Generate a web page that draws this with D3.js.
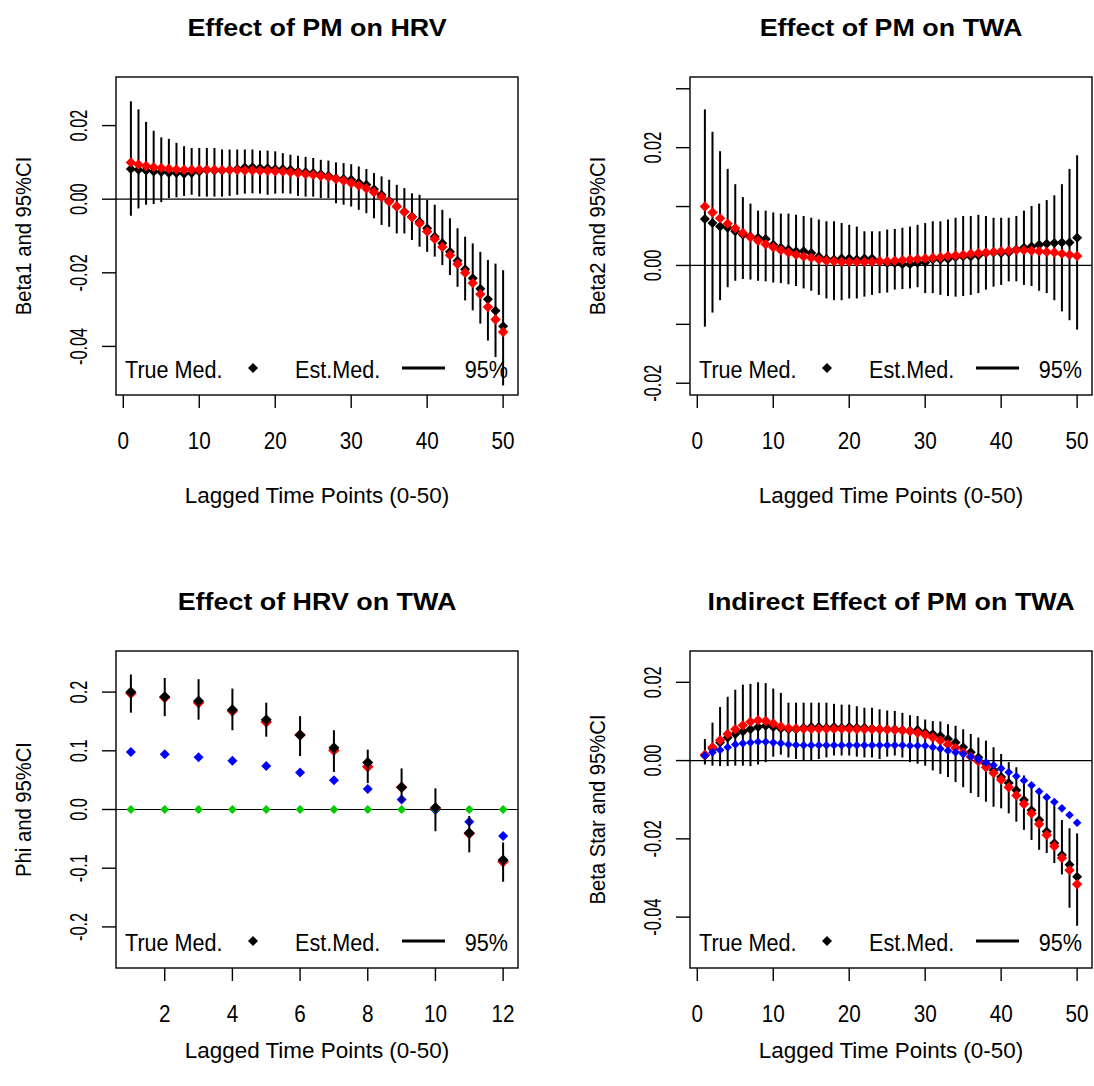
<!DOCTYPE html>
<html>
<head>
<meta charset="utf-8">
<script src="https://cdn.jsdelivr.net/npm/d3@7"></script>
<style>
  body { margin: 0; background: #fff; }
  svg { display: block; font-family: "Liberation Sans", Arial, sans-serif; }
</style>
</head>
<body>
<svg id="chart" width="1094" height="1086"></svg>
<script>
// lag positions
const lags50 = [1, 2, 3, 4, 5, 6, 7, 8, 9, 10, 11, 12, 13, 14, 15, 16, 17, 18, 19, 20,
    21, 22, 23, 24, 25, 26, 27, 28, 29, 30, 31, 32, 33, 34, 35, 36, 37, 38, 39, 40,
    41, 42, 43, 44, 45, 46, 47, 48, 49, 50];
const lags12 = [1, 2, 3, 4, 5, 6, 7, 8, 9, 10, 11, 12];

// Effect of PM on HRV
const hrvTrue = [0.0100, 0.0094, 0.0090, 0.0087, 0.0085, 0.0083, 0.0081, 0.0080, 0.0080, 0.0080,
    0.0080, 0.0080, 0.0079, 0.0079, 0.0079, 0.0078, 0.0078, 0.0077, 0.0077, 0.0076,
    0.0075, 0.0073, 0.0071, 0.0068, 0.0066, 0.0063, 0.0060, 0.0055, 0.0050, 0.0044,
    0.0037, 0.0029, 0.0019, 0.0006, -0.0007, -0.0020, -0.0035, -0.0049, -0.0066, -0.0088,
    -0.0108, -0.0130, -0.0152, -0.0176, -0.0200, -0.0228, -0.0258, -0.0293, -0.0327, -0.0361];
const hrvEst = [0.0082, 0.0080, 0.0078, 0.0075, 0.0074, 0.0071, 0.0071, 0.0069, 0.0071, 0.0075,
    0.0080, 0.0078, 0.0078, 0.0080, 0.0082, 0.0086, 0.0087, 0.0085, 0.0084, 0.0082,
    0.0082, 0.0080, 0.0075, 0.0073, 0.0071, 0.0068, 0.0064, 0.0057, 0.0055, 0.0053,
    0.0045, 0.0039, 0.0027, 0.0012, -0.0004, -0.0020, -0.0034, -0.0047, -0.0061, -0.0079,
    -0.0102, -0.0120, -0.0143, -0.0167, -0.0190, -0.0215, -0.0243, -0.0272, -0.0303, -0.0345];
const hrvHi = [0.0266, 0.0244, 0.0210, 0.0186, 0.0168, 0.0164, 0.0153, 0.0144, 0.0139, 0.0139,
    0.0139, 0.0139, 0.0135, 0.0135, 0.0135, 0.0135, 0.0135, 0.0132, 0.0132, 0.0130,
    0.0125, 0.0121, 0.0118, 0.0115, 0.0112, 0.0107, 0.0105, 0.0100, 0.0098, 0.0095,
    0.0089, 0.0082, 0.0071, 0.0062, 0.0053, 0.0039, 0.0030, 0.0016, 0.0012, -0.0002,
    -0.0015, -0.0029, -0.0052, -0.0079, -0.0102, -0.0120, -0.0143, -0.0165, -0.0175, -0.0193];
const hrvLo = [-0.0045, -0.0025, -0.0015, -0.0013, -0.0008, 0.0003, 0.0005, 0.0009, 0.0012, 0.0007,
    0.0007, 0.0007, 0.0007, 0.0009, 0.0012, 0.0015, 0.0016, 0.0015, 0.0012, 0.0015,
    0.0016, 0.0015, 0.0009, 0.0007, 0.0007, 0.0003, 0.0003, -0.0011, -0.0015, -0.0020,
    -0.0029, -0.0038, -0.0052, -0.0070, -0.0075, -0.0093, -0.0093, -0.0111, -0.0129, -0.0143,
    -0.0156, -0.0179, -0.0206, -0.0238, -0.0275, -0.0302, -0.0338, -0.0384, -0.0429, -0.0506];

// Effect of PM on TWA
const twaTrue = [0.0100, 0.0090, 0.0080, 0.0071, 0.0063, 0.0055, 0.0048, 0.0042, 0.0036, 0.0031,
    0.0026, 0.0022, 0.0018, 0.0015, 0.0013, 0.0010, 0.0008, 0.0007, 0.0006, 0.0006,
    0.0006, 0.0006, 0.0006, 0.0007, 0.0007, 0.0008, 0.0009, 0.0010, 0.0011, 0.0012,
    0.0013, 0.0014, 0.0016, 0.0017, 0.0018, 0.0020, 0.0021, 0.0022, 0.0023, 0.0024,
    0.0025, 0.0026, 0.0026, 0.0025, 0.0024, 0.0023, 0.0022, 0.0020, 0.0018, 0.0016];
const twaEst = [0.0079, 0.0072, 0.0066, 0.0064, 0.0058, 0.0052, 0.0049, 0.0047, 0.0045, 0.0035,
    0.0030, 0.0027, 0.0024, 0.0024, 0.0021, 0.0015, 0.0011, 0.0010, 0.0012, 0.0012,
    0.0010, 0.0012, 0.0012, 0.0007, 0.0004, 0.0004, 0.0002, 0.0002, 0.0004, 0.0005,
    0.0010, 0.0010, 0.0011, 0.0014, 0.0015, 0.0015, 0.0017, 0.0021, 0.0022, 0.0021,
    0.0022, 0.0027, 0.0030, 0.0032, 0.0035, 0.0037, 0.0038, 0.0039, 0.0039, 0.0047];
const twaHi = [0.0265, 0.0227, 0.0194, 0.0164, 0.0138, 0.0116, 0.0105, 0.0093, 0.0093, 0.0090,
    0.0088, 0.0088, 0.0086, 0.0084, 0.0081, 0.0078, 0.0075, 0.0075, 0.0072, 0.0069,
    0.0066, 0.0058, 0.0058, 0.0058, 0.0061, 0.0062, 0.0064, 0.0066, 0.0069, 0.0072,
    0.0075, 0.0075, 0.0078, 0.0081, 0.0084, 0.0084, 0.0086, 0.0084, 0.0081, 0.0081,
    0.0081, 0.0084, 0.0093, 0.0101, 0.0105, 0.0111, 0.0119, 0.0138, 0.0164, 0.0187];
const twaLo = [-0.0104, -0.0080, -0.0059, -0.0037, -0.0026, -0.0023, -0.0024, -0.0026, -0.0027, -0.0029,
    -0.0030, -0.0032, -0.0035, -0.0039, -0.0043, -0.0050, -0.0056, -0.0059, -0.0059, -0.0056,
    -0.0056, -0.0053, -0.0050, -0.0047, -0.0046, -0.0041, -0.0040, -0.0039, -0.0037, -0.0047,
    -0.0047, -0.0050, -0.0052, -0.0053, -0.0052, -0.0050, -0.0047, -0.0041, -0.0036, -0.0033,
    -0.0027, -0.0027, -0.0033, -0.0035, -0.0043, -0.0047, -0.0059, -0.0078, -0.0093, -0.0109];

// Effect of HRV on TWA
const phiTrue = [0.198, 0.191, 0.182, 0.168, 0.149, 0.127, 0.101, 0.073, 0.038, 0.002, -0.041, -0.089];
const phiEst = [0.200, 0.192, 0.185, 0.170, 0.153, 0.127, 0.105, 0.080, 0.038, 0.003, -0.040, -0.086];
const phiBlue = [0.098, 0.094, 0.089, 0.083, 0.074, 0.063, 0.050, 0.035, 0.017, -0.001, -0.021, -0.045];
const phiGreen = [0, 0, 0, 0, 0, 0, 0, 0, 0, 0, 0, 0];
const phiHi = [0.230, 0.224, 0.222, 0.206, 0.182, 0.159, 0.135, 0.102, 0.070, 0.036, -0.011, -0.056];
const phiLo = [0.165, 0.159, 0.153, 0.135, 0.124, 0.091, 0.064, 0.045, 0.013, -0.037, -0.073, -0.123];

// Indirect Effect of PM on TWA
const indTrue = [0.0015, 0.0034, 0.0052, 0.0068, 0.0080, 0.0090, 0.0099, 0.0103, 0.0101, 0.0095,
    0.0087, 0.0083, 0.0082, 0.0081, 0.0081, 0.0081, 0.0081, 0.0081, 0.0081, 0.0081,
    0.0080, 0.0080, 0.0080, 0.0080, 0.0079, 0.0078, 0.0077, 0.0075, 0.0071, 0.0066,
    0.0059, 0.0051, 0.0041, 0.0032, 0.0021, 0.0010, -0.0002, -0.0017, -0.0032, -0.0049,
    -0.0068, -0.0089, -0.0111, -0.0135, -0.0162, -0.0190, -0.0219, -0.0249, -0.0280, -0.0316];
const indEst = [0.0013, 0.0030, 0.0046, 0.0059, 0.0068, 0.0074, 0.0080, 0.0086, 0.0089, 0.0086,
    0.0082, 0.0080, 0.0080, 0.0084, 0.0086, 0.0086, 0.0084, 0.0086, 0.0084, 0.0086,
    0.0084, 0.0084, 0.0082, 0.0080, 0.0080, 0.0080, 0.0078, 0.0076, 0.0078, 0.0072,
    0.0068, 0.0063, 0.0055, 0.0046, 0.0034, 0.0021, 0.0008, -0.0008, -0.0025, -0.0042,
    -0.0057, -0.0076, -0.0101, -0.0127, -0.0152, -0.0181, -0.0211, -0.0241, -0.0266, -0.0297];
const indBlue = [0.0013, 0.0021, 0.0027, 0.0034, 0.0041, 0.0044, 0.0046, 0.0048, 0.0048, 0.0046,
    0.0044, 0.0041, 0.0040, 0.0039, 0.0039, 0.0039, 0.0039, 0.0039, 0.0039, 0.0039,
    0.0039, 0.0039, 0.0039, 0.0039, 0.0039, 0.0039, 0.0039, 0.0038, 0.0038, 0.0038,
    0.0034, 0.0030, 0.0025, 0.0021, 0.0017, 0.0010, 0.0003, -0.0005, -0.0012, -0.0020,
    -0.0030, -0.0040, -0.0051, -0.0063, -0.0079, -0.0094, -0.0106, -0.0122, -0.0139, -0.0159];
const indHi = [0.0055, 0.0097, 0.0137, 0.0163, 0.0181, 0.0194, 0.0196, 0.0200, 0.0198, 0.0184,
    0.0173, 0.0148, 0.0148, 0.0148, 0.0148, 0.0148, 0.0148, 0.0145, 0.0143, 0.0143,
    0.0139, 0.0135, 0.0135, 0.0131, 0.0128, 0.0127, 0.0122, 0.0116, 0.0114, 0.0105,
    0.0101, 0.0100, 0.0093, 0.0089, 0.0080, 0.0068, 0.0059, 0.0051, 0.0034, 0.0017,
    -0.0004, -0.0017, -0.0038, -0.0068, -0.0084, -0.0101, -0.0114, -0.0152, -0.0173, -0.0186];
const indLo = [-0.0010, -0.0013, -0.0014, -0.0014, -0.0013, -0.0013, -0.0014, -0.0010, -0.0004, 0.0010,
    0.0015, 0.0008, 0.0004, 0.0000, 0.0000, 0.0004, 0.0008, 0.0013, 0.0013, 0.0013,
    0.0010, 0.0008, 0.0008, 0.0004, 0.0010, 0.0013, 0.0008, -0.0004, -0.0008, -0.0013,
    -0.0025, -0.0034, -0.0042, -0.0055, -0.0068, -0.0083, -0.0093, -0.0105, -0.0118, -0.0122,
    -0.0135, -0.0156, -0.0177, -0.0203, -0.0228, -0.0236, -0.0262, -0.0291, -0.0376, -0.0422];

// axis ticks and labels
const xTicks50 = [0, 10, 20, 30, 40, 50];
const xTicks12 = [2, 4, 6, 8, 10, 12];
const yTicksHrv = [-0.04, -0.02, 0, 0.02];
const yLabelsHrv = ["-0.04", "-0.02", "0.00", "0.02"];
const yTicksTwa = [-0.02, -0.01, 0, 0.01, 0.02, 0.03];
const yLabelsTwa = ["-0.02", "", "0.00", "", "0.02", ""];
const yTicksPhi = [-0.2, -0.1, 0, 0.1, 0.2];
const yLabelsPhi = ["-0.2", "-0.1", "0.0", "0.1", "0.2"];
const yTicksInd = [-0.04, -0.02, 0, 0.02];
const yLabelsInd = ["-0.04", "-0.02", "0.00", "0.02"];

const svg = d3.select("#chart");

function txt(g, x, y, str, size, sx, opt) {
    opt = opt || {};
    let tr = "translate(" + x + "," + y + ")";
    if (opt.rotate) tr += " rotate(-90)";
    tr += " scale(" + sx + ",1)";
    const t = g.append("text")
        .attr("transform", tr)
        .attr("font-size", size)
        .attr("text-anchor", opt.anchor || "middle")
        .attr("fill", "#000")
        .text(str);
    if (opt.bold) t.attr("font-weight", "bold");
    return t;
}

function diamond(r) {
    return "M0," + (-r) + "L" + r + ",0L0," + r + "L" + (-r) + ",0Z";
}

function panel(cfg) {
    const g = svg.append("g");
    const x = d3.scaleLinear().domain(cfg.xDomain).range([cfg.left, cfg.left + cfg.width]);
    const y = d3.scaleLinear().domain(cfg.yDomain).range([cfg.top + cfg.height, cfg.top]);
    const bottom = cfg.top + cfg.height;

    // zero line
    g.append("line")
        .attr("x1", cfg.left).attr("x2", cfg.left + cfg.width)
        .attr("y1", y(0)).attr("y2", y(0))
        .attr("stroke", "#000").attr("stroke-width", 1.2);

    function drawSeries() {
        cfg.series.forEach(s => {
            g.append("g").selectAll("path")
                .data(s.values)
                .join("path")
                .attr("d", diamond(s.r))
                .attr("transform", (d, i) => "translate(" + x(cfg.lags[i]) + "," + y(d) + ")")
                .attr("fill", s.color);
        });
    }

    if (!cfg.trueOnTop) drawSeries();

    // 95% intervals
    g.append("g").selectAll("line")
        .data(cfg.lo)
        .join("line")
        .attr("x1", (d, i) => x(cfg.lags[i]))
        .attr("x2", (d, i) => x(cfg.lags[i]))
        .attr("y1", d => y(d))
        .attr("y2", (d, i) => y(cfg.hi[i]))
        .attr("stroke", "#000").attr("stroke-width", 2);

    // estimated medians
    g.append("g").selectAll("path")
        .data(cfg.est)
        .join("path")
        .attr("d", diamond(cfg.estR))
        .attr("transform", (d, i) => "translate(" + x(cfg.lags[i]) + "," + y(d) + ")")
        .attr("fill", "#000");

    if (cfg.trueOnTop) drawSeries();

    // box
    g.append("rect")
        .attr("x", cfg.left).attr("y", cfg.top)
        .attr("width", cfg.width).attr("height", cfg.height)
        .attr("fill", "none").attr("stroke", "#000").attr("stroke-width", 1.4);

    // x axis
    const xa = g.append("g");
    cfg.xTicks.forEach(t => {
        xa.append("line")
            .attr("x1", x(t)).attr("x2", x(t))
            .attr("y1", bottom).attr("y2", bottom + 13)
            .attr("stroke", "#000").attr("stroke-width", 1.4);
        txt(xa, x(t), bottom + 54, String(t), 23, 0.9);
    });

    // y axis
    const ya = g.append("g");
    cfg.yTicks.forEach((t, i) => {
        ya.append("line")
            .attr("x1", cfg.left - 14).attr("x2", cfg.left)
            .attr("y1", y(t)).attr("y2", y(t))
            .attr("stroke", "#000").attr("stroke-width", 1.4);
        if (cfg.yLabels[i] !== "")
            txt(ya, cfg.left - 29, y(t), cfg.yLabels[i], 24, 0.68, { rotate: true });
    });

    // titles
    txt(g, cfg.left + cfg.width / 2, cfg.top - 41, cfg.title, 24, 1.12, { bold: true });
    txt(g, cfg.left + cfg.width / 2, bottom + cfg.xLabOff, "Lagged Time Points (0-50)", 22, 1.02);
    txt(g, cfg.left - 85, cfg.top + cfg.height / 2, cfg.yTitle, 22, 0.92, { rotate: true });

    // legend
    const ly = bottom - 17;
    txt(g, cfg.left + 9, ly, "True Med.", 24, 0.9, { anchor: "start" });
    g.append("path")
        .attr("d", diamond(5))
        .attr("transform", "translate(" + (cfg.left + 137) + "," + (ly - 10) + ")")
        .attr("fill", "#000");
    txt(g, cfg.left + 179, ly, "Est.Med.", 24, 0.9, { anchor: "start" });
    g.append("line")
        .attr("x1", cfg.left + 286).attr("x2", cfg.left + 329)
        .attr("y1", ly - 10).attr("y2", ly - 10)
        .attr("stroke", "#000").attr("stroke-width", 3);
    txt(g, cfg.left + 392, ly, "95%", 24, 0.9, { anchor: "end" });
}

panel({
    left: 116, top: 77, width: 402, height: 318, xLabOff: 108, trueOnTop: true,
    xDomain: [-0.96, 51.96], yDomain: [-0.0532, 0.0332],
    lags: lags50, est: hrvEst, lo: hrvLo, hi: hrvHi, estR: 5,
    series: [{ values: hrvTrue, color: "#ff0000", r: 5.2 }],
    xTicks: xTicks50, yTicks: yTicksHrv, yLabels: yLabelsHrv,
    title: "Effect of PM on HRV", yTitle: "Beta1 and 95%CI"
});

panel({
    left: 690, top: 77, width: 402, height: 318, xLabOff: 108, trueOnTop: true,
    xDomain: [-0.96, 51.96], yDomain: [-0.022, 0.032],
    lags: lags50, est: twaEst, lo: twaLo, hi: twaHi, estR: 5,
    series: [{ values: twaTrue, color: "#ff0000", r: 5.2 }],
    xTicks: xTicks50, yTicks: yTicksTwa, yLabels: yLabelsTwa,
    title: "Effect of PM on TWA", yTitle: "Beta2 and 95%CI"
});

panel({
    left: 116, top: 651, width: 402, height: 317, xLabOff: 90, trueOnTop: false,
    xDomain: [0.56, 12.44], yDomain: [-0.27, 0.27],
    lags: lags12, est: phiEst, lo: phiLo, hi: phiHi, estR: 5.5,
    series: [
        { values: phiTrue, color: "#ff0000", r: 5.8 },
        { values: phiBlue, color: "#0000ff", r: 5 },
        { values: phiGreen, color: "#00cd00", r: 4.5 }
    ],
    xTicks: xTicks12, yTicks: yTicksPhi, yLabels: yLabelsPhi,
    title: "Effect of HRV on TWA", yTitle: "Phi and 95%CI"
});

panel({
    left: 690, top: 651, width: 402, height: 317, xLabOff: 90, trueOnTop: true,
    xDomain: [-0.96, 51.96], yDomain: [-0.053, 0.028],
    lags: lags50, est: indEst, lo: indLo, hi: indHi, estR: 5,
    series: [
        { values: indTrue, color: "#ff0000", r: 5.2 },
        { values: indBlue, color: "#0000ff", r: 4.3 }
    ],
    xTicks: xTicks50, yTicks: yTicksInd, yLabels: yLabelsInd,
    title: "Indirect Effect of PM on TWA", yTitle: "Beta Star and 95%CI"
});
</script>
</body>
</html>
